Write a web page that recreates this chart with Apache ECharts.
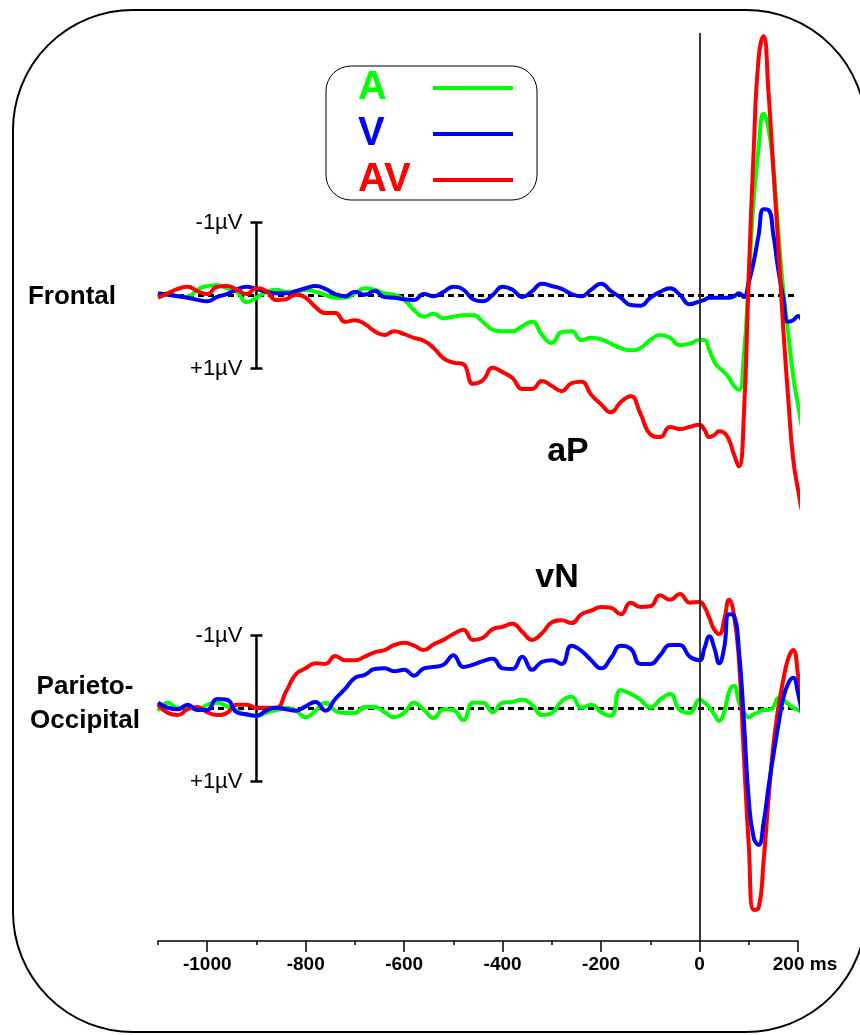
<!DOCTYPE html>
<html>
<head>
<meta charset="UTF-8">
<title>ERP traces</title>
<script src="https://cdn.jsdelivr.net/npm/echarts@6.0.0/dist/echarts.min.js"></script>
<style>
  html, body { margin: 0; padding: 0; background: #fff; }
  #main { width: 860px; height: 1035px; }
</style>
</head>
<body>
<div id="main"></div>
<script>
// time points in ms (20 ms steps before stimulus, 10 ms after)
var times = [-1100, -1080, -1060, -1040, -1020, -1000, -980, -960, -940, -920,
  -900, -880, -860, -840, -820, -800, -780, -760, -740, -720,
  -700, -680, -660, -640, -620, -600, -580, -560, -540, -520,
  -500, -480, -460, -440, -420, -400, -380, -360, -340, -320,
  -300, -280, -260, -240, -220, -200, -180, -160, -140, -120,
  -100, -80, -60, -40, -20,
  0, 10, 20, 30, 40, 50, 60, 70, 80, 90, 100, 110, 120, 130, 140, 150, 160, 170, 180, 190, 200, 210];

// Frontal, values in microvolts (negative plotted up)
var frontA = [0.01, -0.03, 0.01, 0.02, -0.08, -0.13, -0.14, -0.10, -0.05, 0.09,
  0.03, -0.05, -0.08, -0.05, -0.05, -0.08, -0.05, -0.01, 0.03, 0.03,
  -0.03, -0.10, -0.08, -0.03, -0.01, 0.06, 0.20, 0.29, 0.25, 0.31,
  0.29, 0.27, 0.27, 0.36, 0.47, 0.49, 0.49, 0.42, 0.36, 0.54,
  0.65, 0.50, 0.49, 0.61, 0.58, 0.60, 0.66, 0.72, 0.75, 0.72,
  0.61, 0.54, 0.58, 0.68, 0.66,
  0.61, 0.61, 0.75, 0.91, 0.99, 1.05, 1.13, 1.24, 1.29, 0.82, -0.21, -1.31, -2.02, -2.49, -2.29, -1.75, -0.87, -0.08, 0.51, 1.09, 1.50, 1.87];
var frontV = [-0.03, -0.01, 0.01, 0.03, 0.06, 0.08, 0.02, -0.02, -0.08, -0.12,
  -0.09, -0.05, -0.03, -0.03, -0.06, -0.10, -0.13, -0.09, -0.02, 0.01,
  -0.05, -0.01, -0.06, 0.02, 0.03, 0.05, 0.06, -0.02, 0.01, -0.05,
  -0.12, -0.08, 0.05, 0.08, -0.01, -0.12, -0.08, 0.02, -0.06, -0.16,
  -0.13, -0.09, -0.02, 0.01, -0.08, -0.16, -0.06, 0.03, 0.13, 0.14,
  0.03, -0.05, -0.10, -0.01, 0.12,
  0.08, 0.06, 0.03, 0.03, 0.03, 0.03, 0.03, 0.01, -0.03, 0.02, -0.18, -0.46, -0.83, -1.18, -1.17, -0.83, -0.35, 0.03, 0.36, 0.34, 0.28, 0.38];
var frontAV = [0.03, -0.03, -0.09, -0.12, -0.06, -0.02, -0.12, -0.13, -0.08, -0.02,
  -0.10, -0.06, 0.06, 0.05, -0.01, 0.03, 0.16, 0.24, 0.24, 0.36,
  0.34, 0.39, 0.49, 0.54, 0.49, 0.53, 0.58, 0.62, 0.72, 0.86,
  0.92, 0.94, 1.21, 1.16, 0.99, 1.05, 1.13, 1.28, 1.28, 1.17,
  1.24, 1.31, 1.20, 1.18, 1.36, 1.49, 1.60, 1.46, 1.38, 1.62,
  1.90, 1.94, 1.80, 1.83, 1.80,
  1.77, 1.84, 1.94, 1.91, 1.86, 1.88, 1.98, 2.18, 2.34, 1.64, -0.28, -1.99, -3.25, -3.55, -2.79, -1.72, -0.69, 0.45, 1.40, 2.23, 2.66, 3.02];

// Parieto-Occipital
var poA = [0.03, -0.08, -0.01, -0.02, 0.02, -0.05, -0.08, -0.03, 0.03, 0.09,
  0.10, 0.06, 0.02, -0.01, 0.03, 0.12, 0.03, -0.08, 0.03, 0.06,
  0.06, -0.02, -0.02, 0.05, 0.12, 0.06, -0.08, 0.02, 0.13, 0.01,
  0.02, 0.16, -0.08, -0.08, 0.05, -0.08, -0.09, -0.12, -0.05, 0.09,
  0.06, -0.10, -0.16, -0.01, -0.05, 0.05, 0.10, -0.25, -0.20, -0.12,
  -0.01, -0.12, -0.20, 0.02, 0.06,
  -0.12, -0.08, -0.02, 0.08, 0.17, 0.05, -0.23, -0.31, -0.09, 0.05, 0.12, 0.08, 0.05, 0.02, 0.02, -0.02, -0.14, -0.12, -0.06, -0.01, 0.02, 0.05];
var poV = [-0.08, -0.01, 0.01, -0.05, 0.02, 0.02, -0.13, -0.12, 0.05, 0.08,
  0.10, 0.03, -0.01, 0.01, 0.03, -0.03, -0.09, 0.03, -0.13, -0.27,
  -0.42, -0.46, -0.54, -0.55, -0.51, -0.53, -0.45, -0.55, -0.57, -0.60,
  -0.73, -0.57, -0.60, -0.65, -0.68, -0.55, -0.54, -0.71, -0.53, -0.64,
  -0.66, -0.61, -0.86, -0.79, -0.66, -0.55, -0.69, -0.86, -0.82, -0.61,
  -0.61, -0.73, -0.87, -0.87, -0.71,
  -0.66, -0.83, -0.99, -0.83, -0.62, -0.83, -1.29, -1.27, -0.80, 0.16, 1.25, 1.77, 1.87, 1.57, 1.08, 0.64, 0.23, -0.14, -0.34, -0.42, -0.21, 0.16];
var poAV = [-0.05, 0.06, 0.09, 0.01, -0.02, 0.05, 0.09, 0.06, -0.05, -0.05,
  -0.01, -0.01, -0.01, -0.23, -0.47, -0.55, -0.62, -0.61, -0.72, -0.66,
  -0.66, -0.71, -0.77, -0.80, -0.87, -0.90, -0.86, -0.80, -0.88, -0.94,
  -1.02, -1.08, -0.94, -0.97, -1.09, -1.12, -1.16, -1.05, -0.94, -1.03,
  -1.18, -1.21, -1.17, -1.29, -1.34, -1.39, -1.38, -1.29, -1.45, -1.39,
  -1.40, -1.55, -1.49, -1.57, -1.45,
  -1.46, -1.39, -1.24, -1.08, -1.02, -1.21, -1.49, -1.28, -0.66, 0.64, 1.87, 2.76, 2.73, 2.10, 1.25, 0.50, -0.01, -0.39, -0.68, -0.80, -0.46, 0.12];

// axis ticks and labels
var majorTicks = [-1000, -800, -600, -400, -200, 0, 200];
var minorTicks = [-1100, -900, -700, -500, -300, -100, 100];
var scaleLabels = ['-1\u00b5V', '+1\u00b5V'];
var legendNames = ['A', 'V', 'AV'];

var COL_A = '#00ff00', COL_V = '#0000ff', COL_AV = '#ff0000';
var FONT = '"Liberation Sans", Arial, sans-serif';

// layout: both panels share the same plot box, each y axis puts its baseline in place
var plotTop = 33, plotBottom = 941, pxPerUv = 73;
var frontBase = 295.5, poBase = 708.5;

function pairs(vals) {
  return times.map(function (t, i) { return [t, vals[i]]; });
}

function trace(name, color, vals, idx) {
  return {
    name: name, type: 'line', xAxisIndex: idx, yAxisIndex: idx,
    data: pairs(vals), smooth: 0.5, symbol: 'none', clip: false,
    lineStyle: { color: color, width: 4 }, itemStyle: { color: color },
    z: 3, silent: true
  };
}

function baseline(idx) {
  return {
    type: 'line', xAxisIndex: idx, yAxisIndex: idx,
    data: [[-1100, 0], [200, 0]], symbol: 'none', silent: true,
    lineStyle: { color: '#000', width: 3, type: [6, 4] }, z: 1
  };
}

// the +-1 uV scale bar
function scaleBar(idx) {
  return {
    type: 'line', xAxisIndex: idx, yAxisIndex: idx,
    data: [[-900, -1], [-900, 1]], symbol: 'rect', symbolSize: [12, 2.5],
    showSymbol: true, silent: true,
    lineStyle: { color: '#000', width: 2.5 }, itemStyle: { color: '#000' },
    label: {
      show: true, position: 'left', distance: 8, color: '#000',
      fontSize: 22, fontFamily: FONT,
      formatter: function (p) { return p.value[1] < 0 ? scaleLabels[0] : scaleLabels[1]; }
    },
    z: 2
  };
}

var zeroLine = baseline(1);
zeroLine.markLine = {
  symbol: 'none', silent: true, label: { show: false },
  lineStyle: { color: '#222', width: 1.8, type: 'solid' },
  data: [{ xAxis: 0 }]
};

function legendRich(color) {
  return { color: color, fontSize: 40, fontWeight: 'bold', fontFamily: FONT, width: 70, align: 'left' };
}

var chart = echarts.init(document.getElementById('main'));

var option = {
  animation: false,
  backgroundColor: '#fff',
  grid: [
    { left: 158, width: 640, top: plotTop, height: plotBottom - plotTop },
    { left: 158, width: 640, top: plotTop, height: plotBottom - plotTop }
  ],
  xAxis: [
    {
      gridIndex: 0, type: 'value', min: -1100, max: 200,
      axisLine: { show: false, onZero: false },
      axisTick: { show: true, customValues: minorTicks, length: 4, lineStyle: { color: '#000', width: 1.5 } },
      axisLabel: { show: false }, splitLine: { show: false }
    },
    {
      gridIndex: 1, type: 'value', min: -1100, max: 200,
      axisLine: { show: true, onZero: false, lineStyle: { color: '#000', width: 1.5 } },
      axisTick: { show: true, customValues: majorTicks, length: 11, lineStyle: { color: '#000', width: 1.5 } },
      axisLabel: {
        customValues: majorTicks, color: '#000', fontSize: 19, fontWeight: 'bold', fontFamily: FONT, margin: 14,
        formatter: function (v) { return v === 200 ? '{u|200 ms}' : String(v); },
        rich: { u: { fontSize: 19, fontWeight: 'bold', fontFamily: FONT, color: '#000', padding: [0, 0, 0, 14] } }
      },
      splitLine: { show: false }
    }
  ],
  yAxis: [
    { gridIndex: 0, type: 'value', inverse: true, show: false, splitLine: { show: false },
      min: -(frontBase - plotTop) / pxPerUv, max: (plotBottom - frontBase) / pxPerUv },
    { gridIndex: 1, type: 'value', inverse: true, show: false, splitLine: { show: false },
      min: -(poBase - plotTop) / pxPerUv, max: (plotBottom - poBase) / pxPerUv }
  ],
  legend: {
    data: legendNames, orient: 'vertical', left: 326, top: 66, align: 'right',
    icon: 'rect', itemWidth: 80, itemHeight: 4, itemGap: 6,
    padding: [2, 24, 0, 32], borderColor: '#000', borderWidth: 1, borderRadius: 25,
    selectedMode: false,
    formatter: function (n) { return '{' + n + '|' + n + '}'; },
    textStyle: { rich: { A: legendRich(COL_A), V: legendRich(COL_V), AV: legendRich(COL_AV) } }
  },
  graphic: [
    { type: 'rect', silent: true, shape: { x: 13, y: 10, width: 853, height: 1022, r: 120 },
      style: { fill: 'none', stroke: '#000', lineWidth: 2 } },
    { type: 'text', silent: true, x: 72, y: 297,
      style: { text: 'Frontal', font: 'bold 26px ' + FONT, fill: '#000', textAlign: 'center', textVerticalAlign: 'middle' } },
    { type: 'text', silent: true, x: 85, y: 704,
      style: { text: 'Parieto-\nOccipital', font: 'bold 26px ' + FONT, lineHeight: 34, fill: '#000', textAlign: 'center', textVerticalAlign: 'middle' } },
    { type: 'text', silent: true, x: 568, y: 452,
      style: { text: 'aP', font: 'bold 34px ' + FONT, fill: '#000', textAlign: 'center', textVerticalAlign: 'middle' } },
    { type: 'text', silent: true, x: 557, y: 578,
      style: { text: 'vN', font: 'bold 34px ' + FONT, fill: '#000', textAlign: 'center', textVerticalAlign: 'middle' } }
  ],
  series: [
    baseline(0),
    zeroLine,
    scaleBar(0),
    scaleBar(1),
    // frontal: red drawn on top
    trace('A', COL_A, frontA, 0),
    trace('V', COL_V, frontV, 0),
    trace('AV', COL_AV, frontAV, 0),
    // parieto-occipital: blue drawn on top
    trace('A', COL_A, poA, 1),
    trace('AV', COL_AV, poAV, 1),
    trace('V', COL_V, poV, 1)
  ]
};

chart.setOption(option);
</script>
</body>
</html>
